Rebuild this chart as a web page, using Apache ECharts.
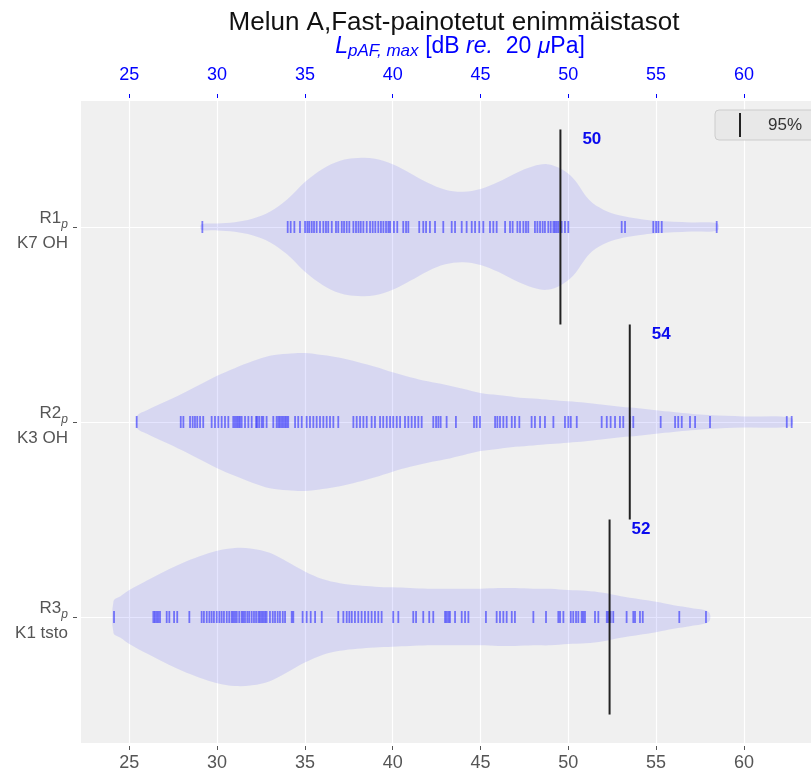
<!DOCTYPE html>
<html><head><meta charset="utf-8">
<script src="https://cdn.jsdelivr.net/npm/echarts@6/dist/echarts.min.js"></script>
<style>html,body{margin:0;padding:0;background:#fff;overflow:hidden}#c{width:811px;height:773px}</style>
</head><body><div id="c"></div>
<script>
// ---------- data ----------
const xTicks = [25, 30, 35, 40, 45, 50, 55, 60];
const rowPos = [1, 2, 3];
const rowNames = ['R1', 'R2', 'R3'];
const rowSub = ['p', 'p', 'p'];
const rowSites = ['K7 OH', 'K3 OH', 'K1 tsto'];
const p95 = [49.55, 53.5, 52.35];
const legendName = '95%';

const rugR1 = [29.16,34.02,34.19,34.40,34.72,35.01,35.14,35.25,35.39,35.52,35.67,35.86,36.05,36.20,36.33,36.53,36.77,36.90,37.10,37.23,37.38,37.53,37.76,37.91,38.05,38.18,38.33,38.52,38.71,38.86,39.01,39.18,39.33,39.47,39.62,39.75,39.85,40.07,40.26,40.60,40.76,40.89,41.51,41.74,41.90,42.12,42.41,42.88,43.36,43.55,43.93,44.21,44.50,44.69,44.93,45.16,45.54,45.73,45.92,46.40,46.68,46.83,47.10,47.25,47.44,47.59,47.72,48.10,48.24,48.39,48.54,48.67,48.86,49.00,49.15,49.24,49.34,49.44,49.62,49.81,50.00,53.04,53.23,54.84,55.00,55.13,55.32,58.45];
const rugR2 = [25.42,27.93,28.08,28.46,28.61,28.74,28.87,29.03,29.21,29.69,29.88,30.07,30.26,30.45,30.64,30.92,31.02,31.12,31.21,31.30,31.40,31.59,31.78,31.97,32.22,32.29,32.40,32.54,32.63,32.82,33.20,33.39,33.49,33.58,33.68,33.77,33.87,33.96,34.05,34.44,34.62,34.82,35.10,35.29,35.48,35.67,35.86,36.05,36.24,36.43,36.62,36.90,37.76,37.95,38.14,38.33,38.52,38.80,38.99,39.28,39.46,39.66,39.85,40.03,40.23,40.42,40.70,40.89,41.08,41.27,41.46,41.65,42.31,42.47,42.60,42.73,43.07,43.60,44.63,44.78,44.97,45.83,45.96,46.11,46.30,46.49,46.78,46.96,47.21,47.91,48.10,48.39,48.67,49.15,49.81,50.00,50.14,50.48,51.90,52.19,52.41,52.66,52.94,53.13,53.51,53.70,55.26,56.08,56.26,56.46,56.93,57.22,58.07,62.44,62.72];
const rugR3 = [24.13,26.37,26.46,26.56,26.65,26.75,27.13,27.28,27.55,27.73,28.42,29.12,29.25,29.41,29.56,29.69,29.82,29.98,30.13,30.26,30.39,30.55,30.69,30.83,30.92,31.02,31.12,31.26,31.40,31.49,31.59,31.72,31.83,31.97,32.10,32.22,32.35,32.44,32.54,32.63,32.73,32.82,33.01,33.17,33.30,33.45,33.58,33.74,33.87,34.25,34.34,34.87,35.10,35.33,35.58,35.96,36.90,37.19,37.38,37.53,37.67,37.85,38.04,38.23,38.42,38.61,38.80,38.99,39.18,39.37,40.03,40.32,41.17,41.33,41.74,42.08,42.31,42.98,43.07,43.17,43.26,43.55,43.93,44.12,44.31,45.31,45.92,46.11,46.30,46.49,46.78,46.96,48.01,48.73,49.43,49.53,49.72,50.14,50.28,50.44,50.57,50.76,50.85,50.95,51.52,51.71,52.19,52.28,52.41,52.56,53.32,53.70,53.80,54.08,54.24,56.32,57.84];

// violin outlines: [dB, relative density width]
const violinR1 = [[29.1,.04],[30,.05],[31,.07],[32,.12],[33,.22],[34,.40],[35,.65],[36,.84],[37,.96],[38,1.0],[39,.99],[40,.91],[41,.78],[42,.64],[43,.54],[44,.51],[45,.55],[46,.65],[47,.78],[48,.88],[48.8,.91],[49.6,.84],[50.3,.70],[51.2,.39],[52,.25],[52.9,.17],[54,.12],[55,.09],[57,.065],[58.5,.05]];
const violinR2 = [[25.45,.09],[26,.17],[27,.29],[28,.41],[29,.54],[30,.67],[31,.78],[32,.88],[33,.96],[34,.99],[35,1.0],[36,.97],[37,.93],[38,.87],[39,.80],[40,.72],[41,.65],[42,.59],[43,.54],[44,.48],[45,.42],[46,.39],[47,.36],[48,.34],[49,.32],[50,.30],[51,.28],[52,.25],[53,.22],[54,.20],[55,.17],[56,.145],[57,.12],[58,.10],[60,.08],[62.7,.06]];
const violinR3 = [[24.1,.23],[24.5,.30],[25,.39],[26,.53],[27,.66],[28,.78],[29,.88],[30,.96],[31,1.0],[32,.99],[33,.93],[34,.80],[35,.66],[36,.55],[37,.49],[38,.46],[39,.44],[40,.43],[41,.42],[42,.41],[43,.41],[44,.41],[45,.41],[46,.42],[47,.42],[48,.41],[49,.41],[50,.39],[51,.38],[52,.35],[53,.30],[54,.26],[55,.22],[56,.17],[57,.13],[58,.07]];

// ---------- chart ----------
const FONT = '"Liberation Sans", Arial, sans-serif';
const BLUE = '#0000ff';
const GREY = '#555555';
const VW = 0.354;          // max half width of violins (axis units)
const XMIN = 22.25, XMAX = 63.82;

const chart = echarts.init(document.getElementById('c'), null, {renderer: 'canvas'});

function violinSeries(outline, row) {
  return {
    type: 'custom', silent: true, z: 2,
    data: outline.map(d => [d[0], row]),
    renderItem: function (params, api) {
      if (params.dataIndex !== 0) return null;
      const top = outline.map(d => api.coord([d[0], row - d[1] * VW]));
      const bot = outline.slice().reverse().map(d => api.coord([d[0], row + d[1] * VW]));
      return {type: 'polygon', shape: {points: top.concat(bot), smooth: 0.35},
              style: {fill: 'rgba(0,0,255,0.1)'}};
    }
  };
}
function rugSeries(vals, row) {
  return {
    type: 'scatter', silent: true, z: 3,
    data: vals.map(v => [v, row]),
    symbol: 'rect', symbolSize: [1.8, 12],
    itemStyle: {color: 'rgba(0,0,255,0.6)'}
  };
}

const option = {
  animation: false,
  backgroundColor: '#ffffff',
  textStyle: {fontFamily: FONT},
  title: {
    text: 'Melun A,Fast-painotetut enimmäistasot',
    left: 449, textAlign: 'center', top: 5,
    textStyle: {fontSize: 26, fontWeight: 'normal', color: '#111', fontFamily: FONT}
  },
  legend: {
    data: [{name: legendName, icon: 'rect', itemStyle: {color: '#222'}}],
    left: 715, top: 110, itemWidth: 2, itemHeight: 24,
    backgroundColor: '#e8e8e8', borderColor: '#cccccc', borderWidth: 1, borderRadius: 4,
    padding: [3, 40, 3, 24],
    textStyle: {fontSize: 17, color: '#333', padding: [0, 0, 0, 22], fontFamily: FONT}
  },
  grid: {left: 81, right: 0, top: 101, bottom: 30, show: true,
         backgroundColor: '#f0f0f0', borderWidth: 0},
  xAxis: [{
    type: 'value', position: 'bottom', min: XMIN, max: XMAX, offset: 3,
    axisLine: {show: false},
    axisTick: {show: true, length: 4, customValues: xTicks, lineStyle: {color: GREY}},
    axisLabel: {customValues: xTicks, color: GREY, fontSize: 18, margin: 8, fontFamily: FONT},
    splitLine: {show: true, lineStyle: {color: '#ffffff', width: 1.2}}
  }, {
    type: 'value', position: 'top', min: XMIN, max: XMAX, offset: 3,
    axisLine: {show: false},
    axisTick: {show: true, length: 4, customValues: xTicks, lineStyle: {color: BLUE}},
    axisLabel: {customValues: xTicks, color: BLUE, fontSize: 18, margin: 14, fontFamily: FONT},
    splitLine: {show: false},
    name: '{i|L}{s|pAF, max}  {n|[dB }{i|re.}{n|  20 }{i|μ}{n|Pa]}',
    nameLocation: 'middle', nameGap: 38,
    nameTextStyle: {
      color: BLUE, fontFamily: FONT, padding: [0, 0, 0, 28],
      rich: {
        i: {fontStyle: 'italic', fontSize: 23, color: BLUE, fontFamily: FONT},
        n: {fontSize: 23, color: BLUE, fontFamily: FONT},
        s: {fontStyle: 'italic', fontSize: 17, color: BLUE, fontFamily: FONT, verticalAlign: 'bottom', padding: [9, 0, 0, 0]}
      }
    }
  }],
  yAxis: {
    type: 'value', inverse: true, min: 0.354, max: 3.646, offset: 4,
    axisLine: {show: false},
    axisTick: {show: true, length: 4, customValues: rowPos, lineStyle: {color: GREY}},
    axisLabel: {
      customValues: rowPos, margin: 9, align: 'right', lineHeight: 25, padding: [7, 0, 0, 0],
      formatter: function (v) {
        const i = rowPos.indexOf(Math.round(v));
        if (i < 0) return '';
        return '{a|' + rowNames[i] + '}{s|' + rowSub[i] + '}\n{a|' + rowSites[i] + '}';
      },
      rich: {
        a: {fontSize: 17, color: GREY, fontFamily: FONT, lineHeight: 25},
        s: {fontSize: 12, fontStyle: 'italic', color: GREY, fontFamily: FONT, verticalAlign: 'bottom', lineHeight: 25, padding: [6, 0, 0, 0]}
      }
    },
    splitLine: {show: true, lineStyle: {color: '#ffffff', width: 1.2}}
  },
  series: [
    violinSeries(violinR1, rowPos[0]),
    violinSeries(violinR2, rowPos[1]),
    violinSeries(violinR3, rowPos[2]),
    rugSeries(rugR1, rowPos[0]),
    rugSeries(rugR2, rowPos[1]),
    rugSeries(rugR3, rowPos[2]),
    {
      type: 'custom', name: legendName, z: 5, silent: true,
      data: p95.map((v, i) => [v, rowPos[i]]),
      renderItem: function (params, api) {
        const v = api.value(0), r = api.value(1);
        const a = api.coord([v, r - 0.5]), b = api.coord([v, r + 0.5]);
        return {type: 'group', children: [
          {type: 'line', shape: {x1: a[0], y1: a[1], x2: b[0], y2: b[1]},
           style: {stroke: '#222', lineWidth: 2}},
          {type: 'text', x: a[0] + 22, y: a[1] + 10,
           style: {text: String(Math.round(v)), fill: '#0a0aee', fontSize: 17,
                   fontWeight: 'bold', fontFamily: FONT, verticalAlign: 'middle'}}
        ]};
      }
    }
  ]
};
chart.setOption(option);
</script>
</body></html>
